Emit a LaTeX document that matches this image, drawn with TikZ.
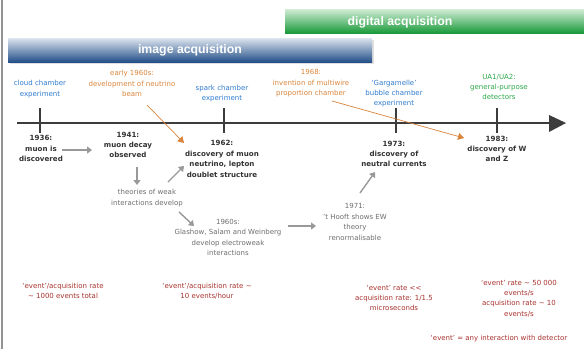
\documentclass[tikz,border=0pt]{standalone}
\usepackage{fontspec}
\setmainfont{DejaVu Sans}
\newfontfamily\titlefont{Liberation Sans}
\usetikzlibrary{arrows.meta}
\definecolor{evblue}{HTML}{2E7BCF}
\definecolor{evorange}{HTML}{D9853B}
\definecolor{evgreen}{HTML}{2EA84A}
\definecolor{evred}{HTML}{A8322D}
\definecolor{evgray}{HTML}{6E6E6E}
\definecolor{evdark}{HTML}{333333}
\definecolor{evline}{HTML}{3C3C3C}
\definecolor{bluetop}{HTML}{DCE4EE}
\definecolor{bluebot}{HTML}{245089}
\definecolor{greentop}{HTML}{D2EDD6}
\definecolor{greenbot}{HTML}{1A9A3A}
\tikzset{
  lbl/.style={align=center, font=\fontsize{7}{10.4}\selectfont, inner sep=0pt},
  toplbl/.style={lbl},
  evt/.style={lbl, text=evdark, font=\fontsize{7.1}{10.4}\selectfont\bfseries},
  theory/.style={lbl, text=evgray},
  rate/.style={lbl, text=evred},
  garrow/.style={draw=gray!80, line width=1.4pt, -{Triangle[length=5pt,width=7pt]}},
  oarrow/.style={draw=evorange, line width=0.7pt, -{Triangle[length=6pt,width=7pt]}},
  tick/.style={draw=evline, line width=1.6pt},
  bar/.style={inner sep=0pt, text=white, font=\titlefont\fontsize{12.3}{14}\selectfont\bfseries}
}
\begin{document}
\begin{tikzpicture}[x=1pt,y=-1pt]
\useasboundingbox (0,0) rectangle (584,349);
\fill[white] (0,0) rectangle (584,349);
% left border
\draw[gray!85, line width=2pt] (2,0) -- (2,349);
% bars
\shade[top color=greentop, bottom color=greenbot] (285,9) rectangle (584,33);
\node[bar] (digital) at (400,22) {digital acquisition};
\fill[gray!25] (9.5,39.5) rectangle (373.5,63.5);
\shade[top color=bluetop, bottom color=bluebot] (8,38) rectangle (372,62);
\node[bar] (image) at (190,50) {image acquisition};
% timeline
\coordinate (tstart) at (17,123);
\coordinate (tend) at (566,123);
\draw[evline, line width=2.6pt] (tstart) -- (550,123);
\fill[evline] (549,115) -- (tend) -- (549,132) -- cycle;
\foreach \x/\n in {40/t1,224/t2,396/t3,497/t4}{
  \coordinate (\n a) at (\x,108);
  \coordinate (\n b) at (\x,133);
  \draw[tick] (\n a) -- (\n b);
}
% top labels
\node[toplbl, text=evblue] (cloud) at (40,89) {cloud chamber\\experiment};
\node[toplbl, text=evorange] (beam) at (132,83.5) {early 1960s:\\development of neutrino\\beam};
\node[toplbl, text=evblue] (spark) at (222,93.5) {spark chamber\\experiment};
\node[toplbl, text=evorange] (mwpc) at (311,83.5) {1968:\\invention of multiwire\\proportion chamber};
\node[toplbl, text=evblue] (garg) at (394,93.5) {`Gargamelle'\\bubble chamber\\experiment};
\node[toplbl, text=evgreen] (ua) at (499,87) {UA1/UA2:\\general-purpose\\detectors};
% events
\node[evt] (e1936) at (41,148.5) {1936:\\muon is\\discovered};
\node[evt] (e1941) at (128,145) {1941:\\muon decay\\observed};
\node[evt] (e1962) at (222,159) {1962:\\discovery of muon\\neutrino, lepton\\doublet structure};
\node[evt] (e1973) at (394,154) {1973:\\discovery of\\neutral currents};
\node[evt] (e1983) at (497,149) {1983:\\discovery of W\\and Z};
% theory
\node[theory] (weak) at (147,198) {theories of weak\\interactions develop};
\node[theory] (gsw) at (228,237.5) {1960s:\\Glashow, Salam and Weinberg\\develop electroweak\\interactions};
\node[theory] (hooft) at (355,222) {1971:\\'t Hooft shows EW\\theory\\renormalisable};
% rates
\node[rate] (r1) at (63,291) {`event'/acquisition rate\\\textasciitilde{} 1000 events total};
\node[rate] (r2) at (207,291) {`event'/acquisition rate \textasciitilde\\10 events/hour};
\node[rate] (r3) at (394,298) {`event' rate \textless{}\textless\\acquisition rate: 1/1.5\\microseconds};
\node[rate] (r4) at (519,298.5) {`event' rate \textasciitilde{} 50 000\\events/s\\acquisition rate \textasciitilde{} 10\\events/s};
\node[rate] (r5) at (499,339) {`event' = any interaction with detector};
% gray arrows
\draw[garrow] (62,150) -- (92,150);
\draw[garrow] (137,167) -- (137,185);
\draw[garrow] (168,182) -- (184,166);
\draw[garrow] (179,212) -- (194,226);
\draw[garrow] (288,226) -- (316,226);
\draw[garrow] (360,193) -- (375,172);
% orange arrows
\draw[oarrow] (147,105) -- (184,143);
\draw[oarrow] (332,101) -- (464,138);
\end{tikzpicture}
\end{document}
